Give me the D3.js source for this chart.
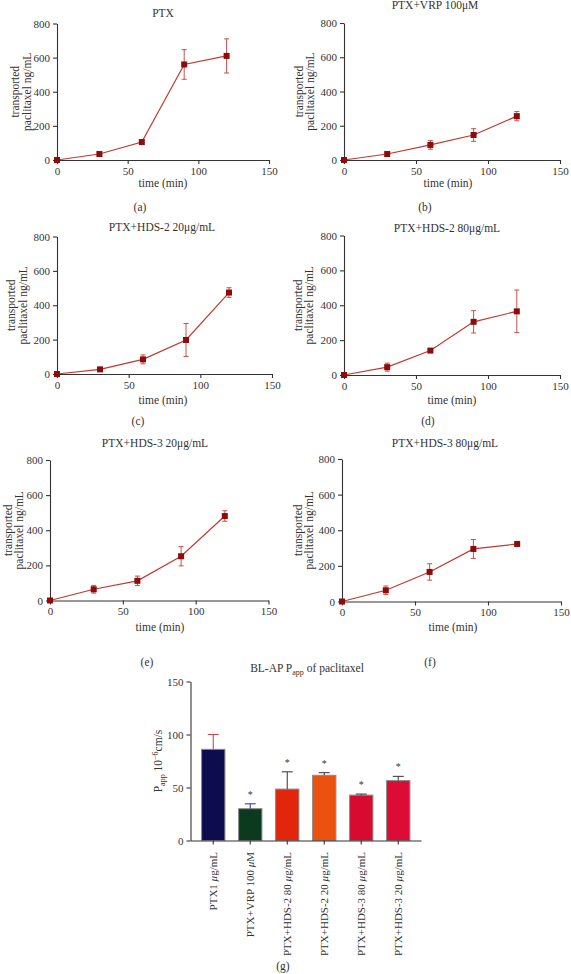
<!DOCTYPE html>
<html><head><meta charset="utf-8">
<script src="https://cdn.jsdelivr.net/npm/d3@7/dist/d3.min.js"></script>
<style>
body{margin:0;background:#fff;}
svg text{font-family:"Liberation Serif","DejaVu Serif",serif;fill:#333;}
</style></head>
<body>
<svg id="c" width="571" height="974"></svg>
<script>
// ---- data ----
const times = [0, 30, 60, 90, 120];
const xTicks = [0, 50, 100, 150];
const yTicks = [0, 200, 400, 600, 800];

const ptxVals = [0, 35, 105, 560, 610];
const ptxErr  = [0, 6, 14, 87, 100];
const vrpVals = [0, 35, 88, 146, 256];
const vrpErr  = [0, 5, 25, 37, 27];
const hds2_20Vals = [0, 27, 85, 198, 474];
const hds2_20Err  = [0, 5, 26, 96, 28];
const hds2_80Vals = [0, 45, 140, 305, 365];
const hds2_80Err  = [0, 23, 8, 64, 122];
const hds3_20Vals = [0, 64, 112, 252, 481];
const hds3_20Err  = [0, 22, 27, 55, 30];
const hds3_80Vals = [0, 63, 166, 295, 323];
const hds3_80Err  = [0, 24, 46, 53, 8];

const barCats = ["PTX1", "PTX+VRP 100", "PTX+HDS-2 80", "PTX+HDS-2 20", "PTX+HDS-3 80", "PTX+HDS-3 20"];
const barUnits = ["μg/mL", "μM", "μg/mL", "μg/mL", "μg/mL", "μg/mL"];
const barVals = [86, 30, 48.5, 61.5, 42.8, 56.5];
const barErr  = [14, 4.6, 16.3, 2.5, 1, 4];
const barSig  = [false, true, true, true, true, true];
const barTicks = [0, 50, 100, 150];
const barColors = ["#0d0c4e", "#0c3a1e", "#e2260b", "#eb510f", "#d90a30", "#dc0c37"];
const barErrColors = ["#c0504d", "#3b3fa0", "#444", "#444", "#444", "#444"];

const svg = d3.select("#c");

// ---- line panels ----
const panels = [
  {vals: ptxVals, err: ptxErr, title: "PTX", ax: 57, x150: 269, y0: 160, y800: 23.5, tx: 163, ty: 17, lx: 163, ly: 187, lab: "(a)", labx: 140, laby: 211, yl1: 15, yl2: 27},
  {vals: vrpVals, err: vrpErr, title: "PTX+VRP 100μM", ax: 344, x150: 560, y0: 160, y800: 23, tx: 435, ty: 9, lx: 448, ly: 187, lab: "(b)", labx: 425, laby: 211, yl1: 299, yl2: 310},
  {vals: hds2_20Vals, err: hds2_20Err, title: "PTX+HDS-2 20μg/mL", ax: 57, x150: 272, y0: 374, y800: 236.5, tx: 162, ty: 231, lx: 163, ly: 404, lab: "(c)", labx: 138, laby: 425, yl1: 11, yl2: 23},
  {vals: hds2_80Vals, err: hds2_80Err, title: "PTX+HDS-2 80μg/mL", ax: 344, x150: 560, y0: 375, y800: 235.5, tx: 447, ty: 232, lx: 452, ly: 404, lab: "(d)", labx: 428, laby: 425, yl1: 298, yl2: 309},
  {vals: hds3_20Vals, err: hds3_20Err, title: "PTX+HDS-3 20μg/mL", ax: 50, x150: 268.5, y0: 600.5, y800: 460, tx: 155, ty: 447, lx: 160, ly: 631, lab: "(e)", labx: 147, laby: 666, yl1: 8, yl2: 19},
  {vals: hds3_80Vals, err: hds3_80Err, title: "PTX+HDS-3 80μg/mL", ax: 342, x150: 561, y0: 601.5, y800: 459, tx: 445, ty: 447, lx: 453, ly: 631, lab: "(f)", labx: 430, laby: 666, yl1: 298, yl2: 309}
];

const lineCol = "#c0392f", markCol = "#8e0b0b", errCol = "#c8504b", axisCol = "#333";

panels.forEach(p => {
  const x = d3.scaleLinear().domain([0, 150]).range([p.ax, p.x150]);
  const y = d3.scaleLinear().domain([0, 800]).range([p.y0, p.y800]);
  const g = svg.append("g");
  const xa = g.append("g").attr("transform", `translate(0,${p.y0})`)
    .call(d3.axisBottom(x).tickValues(xTicks).tickSize(4).tickSizeOuter(0).tickPadding(3));
  const ya = g.append("g").attr("transform", `translate(${p.ax},0)`)
    .call(d3.axisLeft(y).tickValues(yTicks).tickSize(4).tickSizeOuter(0).tickPadding(3));
  [xa, ya].forEach(a => {
    a.selectAll("path,line").attr("stroke", axisCol).attr("stroke-width", 1.1);
    a.selectAll("text").attr("font-size", 11).attr("fill", "#333").attr("font-family", '"Liberation Serif",serif');
  });
  const pts = times.map((t, i) => ({t, v: p.vals[i], e: p.err[i]}));
  g.append("path").datum(pts)
    .attr("d", d3.line().x(d => x(d.t)).y(d => y(d.v)))
    .attr("fill", "none").attr("stroke", lineCol).attr("stroke-width", 1.2);
  const eb = g.selectAll(".eb").data(pts.filter(d => d.e > 0)).enter().append("g");
  eb.append("line").attr("x1", d => x(d.t)).attr("x2", d => x(d.t))
    .attr("y1", d => y(d.v - d.e)).attr("y2", d => y(d.v + d.e)).attr("stroke", errCol).attr("stroke-width", 1);
  [1, -1].forEach(s => {
    eb.append("line").attr("x1", d => x(d.t) - 2.5).attr("x2", d => x(d.t) + 2.5)
      .attr("y1", d => y(d.v + s * d.e)).attr("y2", d => y(d.v + s * d.e)).attr("stroke", errCol).attr("stroke-width", 1);
  });
  g.selectAll(".mk").data(pts).enter().append("rect")
    .attr("x", d => x(d.t) - 3).attr("y", d => y(d.v) - 3).attr("width", 6).attr("height", 6)
    .attr("fill", markCol);
  g.append("text").attr("x", p.tx).attr("y", p.ty).attr("text-anchor", "middle").attr("font-size", 11.5).text(p.title);
  g.append("text").attr("x", p.lx).attr("y", p.ly).attr("text-anchor", "middle").attr("font-size", 11.5).text("time (min)");
  g.append("text").attr("x", p.labx).attr("y", p.laby).attr("text-anchor", "middle").attr("font-size", 11.5).text(p.lab);
  const cy = (p.y0 + p.y800) / 2;
  g.append("text").attr("transform", `translate(${p.yl1 + 4},${cy}) rotate(-90)`).attr("text-anchor", "middle").attr("font-size", 11.5).text("transported");
  g.append("text").attr("transform", `translate(${p.yl2 + 4},${cy}) rotate(-90)`).attr("text-anchor", "middle").attr("font-size", 11.5).text("paclitaxel ng/mL");
});

// ---- bar chart ----
const bx = d3.scaleBand().domain(barCats).range([190.5, 421]).paddingInner(0.37).paddingOuter(0.3);
const by = d3.scaleLinear().domain([0, 150]).range([840.5, 681.5]);
const bg = svg.append("g");

bg.selectAll(".bar").data(barCats).enter().append("rect")
  .attr("x", d => bx(d)).attr("y", (d, i) => by(barVals[i]))
  .attr("width", bx.bandwidth()).attr("height", (d, i) => by(0) - by(barVals[i]))
  .attr("fill", (d, i) => barColors[i]).attr("stroke", "#8a8a8a").attr("stroke-width", 1);

bg.selectAll(".be").data(barCats).enter().append("g").each(function(d, i) {
  const cx = bx(d) + bx.bandwidth() / 2;
  const s = d3.select(this);
  s.append("line").attr("x1", cx).attr("x2", cx).attr("y1", by(barVals[i])).attr("y2", by(barVals[i] + barErr[i]))
    .attr("stroke", barErrColors[i]).attr("stroke-width", 1.1);
  s.append("line").attr("x1", cx - 5.5).attr("x2", cx + 5.5).attr("y1", by(barVals[i] + barErr[i])).attr("y2", by(barVals[i] + barErr[i]))
    .attr("stroke", barErrColors[i]).attr("stroke-width", 1.1);
  if (barSig[i]) {
    s.append("text").attr("x", cx).attr("y", by(barVals[i] + barErr[i]) - 6).attr("text-anchor", "middle")
      .attr("font-size", 10).text("*");
  }
});

const bxa = bg.append("g").attr("transform", `translate(0,${by(0)})`)
  .call(d3.axisBottom(bx).tickSize(4).tickSizeOuter(0).tickFormat(""));
const bya = bg.append("g").attr("transform", "translate(190.5,0)")
  .call(d3.axisLeft(by).tickValues(barTicks).tickSize(4).tickSizeOuter(0).tickPadding(3));
[bxa, bya].forEach(a => {
  a.selectAll("path,line").attr("stroke", axisCol).attr("stroke-width", 1.1);
  a.selectAll("text").attr("font-size", 11).attr("fill", "#333").attr("font-family", '"Liberation Serif",serif');
});

// rotated category labels
barCats.forEach((c, i) => {
  const cx = bx(c) + bx.bandwidth() / 2;
  const t = bg.append("text").attr("transform", `translate(${cx + 4},852) rotate(-90)`)
    .attr("text-anchor", "end").attr("font-size", 11);
  t.append("tspan").text(c + " ");
  t.append("tspan").attr("font-style", "italic").text(barUnits[i].charAt(0));
  t.append("tspan").text(barUnits[i].slice(1));
});

// bar title
const bt = bg.append("text").attr("x", 307).attr("y", 672).attr("text-anchor", "middle").attr("font-size", 11.5);
bt.append("tspan").text("BL-AP P");
bt.append("tspan").attr("font-size", 8).attr("dy", 3).text("app");
bt.append("tspan").attr("dy", -3).text(" of paclitaxel");

// bar y label
const byl = bg.append("text").attr("transform", "translate(162,761) rotate(-90)").attr("text-anchor", "middle").attr("font-size", 11.5);
byl.append("tspan").text("P");
byl.append("tspan").attr("font-size", 8).attr("dy", 3).text("app");
byl.append("tspan").attr("dy", -3).text(" 10");
byl.append("tspan").attr("font-size", 8).attr("dy", -4).text("−6");
byl.append("tspan").attr("dy", 4).text("cm/s");

bg.append("text").attr("x", 283).attr("y", 970).attr("text-anchor", "middle").attr("font-size", 11.5).text("(g)");
</script>
</body></html>
